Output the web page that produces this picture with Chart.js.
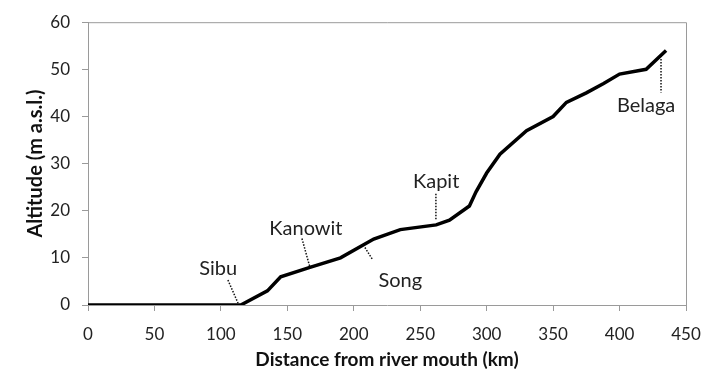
<!DOCTYPE html>
<html>
<head>
<meta charset="utf-8">
<script src="https://cdn.jsdelivr.net/npm/chart.js@4"></script>
<style>
  html, body { margin: 0; padding: 0; background: #fff; }
  #wrap { width: 720px; height: 392px; }
</style>
</head>
<body>
<div id="wrap"><canvas id="profileChart" width="720" height="392"></canvas></div>
<script>
// river long profile: distance from mouth (km) vs altitude (m a.s.l.)
const distanceKm = [0, 115, 135, 145, 167, 190, 215, 235, 262, 272, 287, 292, 300, 310, 330, 350, 360, 375, 388, 400, 420, 435];
const altitudeM = [0, 0, 3, 6, 8, 10, 14, 16, 17, 18, 21, 24, 28, 32, 37, 40, 43, 45, 47, 49, 50, 54];

// town labels, anchored in data units (text centre, leader start, leader end)
const townNames = ["Sibu", "Kanowit", "Song", "Kapit", "Belaga"];
const townText = [[98, 7.8], [164, 16.2], [235, 5.1], [262, 26.1], [420, 42.3]];
const townLeader = [
  [[105.3, 5.3], [112.9, 0.4]],
  [[161, 14.1], [167, 8]],
  [[208.4, 12.2], [214.4, 9.5]],
  [[261.8, 23.6], [261.8, 18.1]],
  [[431.2, 52.2], [431.2, 45.1]]
];

const xTicks = [0, 50, 100, 150, 200, 250, 300, 350, 400, 450];
const yTicks = [0, 10, 20, 30, 40, 50, 60];

const FONT = "Lato, 'Open Sans', sans-serif";
const AXIS_GREY = "#9a9a9a";

// frame round the plot area + town labels with dotted leaders
const annotate = {
  id: "annotate",
  beforeDatasetsDraw(chart) {
    const a = chart.chartArea, ctx = chart.ctx;
    ctx.save();
    ctx.strokeStyle = AXIS_GREY;
    ctx.lineWidth = 1;
    ctx.beginPath();
    ctx.moveTo(a.left, a.top + 0.5);
    ctx.lineTo(a.right + 0.5, a.top + 0.5);
    ctx.lineTo(a.right + 0.5, a.bottom);
    ctx.stroke();
    ctx.restore();
  },
  afterDatasetsDraw(chart) {
    const ctx = chart.ctx, x = chart.scales.x, y = chart.scales.y;
    ctx.save();
    ctx.strokeStyle = "#111";
    ctx.lineWidth = 1.5;
    ctx.setLineDash([1.5, 1.5]);
    townLeader.forEach(seg => {
      ctx.beginPath();
      ctx.moveTo(x.getPixelForValue(seg[0][0]), y.getPixelForValue(seg[0][1]));
      ctx.lineTo(x.getPixelForValue(seg[1][0]), y.getPixelForValue(seg[1][1]));
      ctx.stroke();
    });
    ctx.setLineDash([]);
    ctx.fillStyle = "#222";
    ctx.font = "20px " + FONT;
    ctx.textAlign = "center";
    ctx.textBaseline = "middle";
    townNames.forEach((name, i) => {
      ctx.fillText(name, x.getPixelForValue(townText[i][0]), y.getPixelForValue(townText[i][1]));
    });
    ctx.restore();
  }
};

new Chart(document.getElementById("profileChart"), {
  type: "line",
  data: {
    datasets: [{
      data: distanceKm.map((d, i) => ({ x: d, y: altitudeM[i] })),
      borderColor: "#000",
      borderWidth: 3.5,
      pointRadius: 0,
      tension: 0,
      fill: false
    }]
  },
  options: {
    responsive: false,
    animation: false,
    layout: { padding: { top: 20, right: 34, left: 0, bottom: 0 } },
    plugins: { legend: { display: false }, tooltip: { enabled: false } },
    scales: {
      x: {
        type: "linear",
        min: 0,
        max: 450,
        afterBuildTicks: s => { s.ticks = xTicks.map(v => ({ value: v })); },
        afterFit: s => { s.height = 87; },
        grid: { display: true, drawOnChartArea: false, drawTicks: true, tickLength: 6, color: AXIS_GREY },
        border: { color: AXIS_GREY },
        ticks: { color: "#222", padding: 13, maxRotation: 0, font: { family: FONT, size: 17 } },
        title: { display: true, text: "Distance from river mouth (km)", color: "#111", padding: { top: 0, bottom: 21 }, font: { family: FONT, size: 19, weight: "bold" } }
      },
      y: {
        min: 0,
        max: 60,
        afterBuildTicks: s => { s.ticks = yTicks.map(v => ({ value: v })); },
        afterFit: s => { s.width = 88; },
        grid: { display: true, drawOnChartArea: false, drawTicks: true, tickLength: 6, color: AXIS_GREY },
        border: { color: AXIS_GREY },
        ticks: { color: "#222", padding: 12, font: { family: FONT, size: 17 } },
        title: { display: true, text: "Altitude (m a.s.l.)", color: "#111", padding: { top: 24, bottom: 0 }, font: { family: FONT, size: 20, weight: "bold" } }
      }
    }
  },
  plugins: [annotate]
});
</script>
</body>
</html>
